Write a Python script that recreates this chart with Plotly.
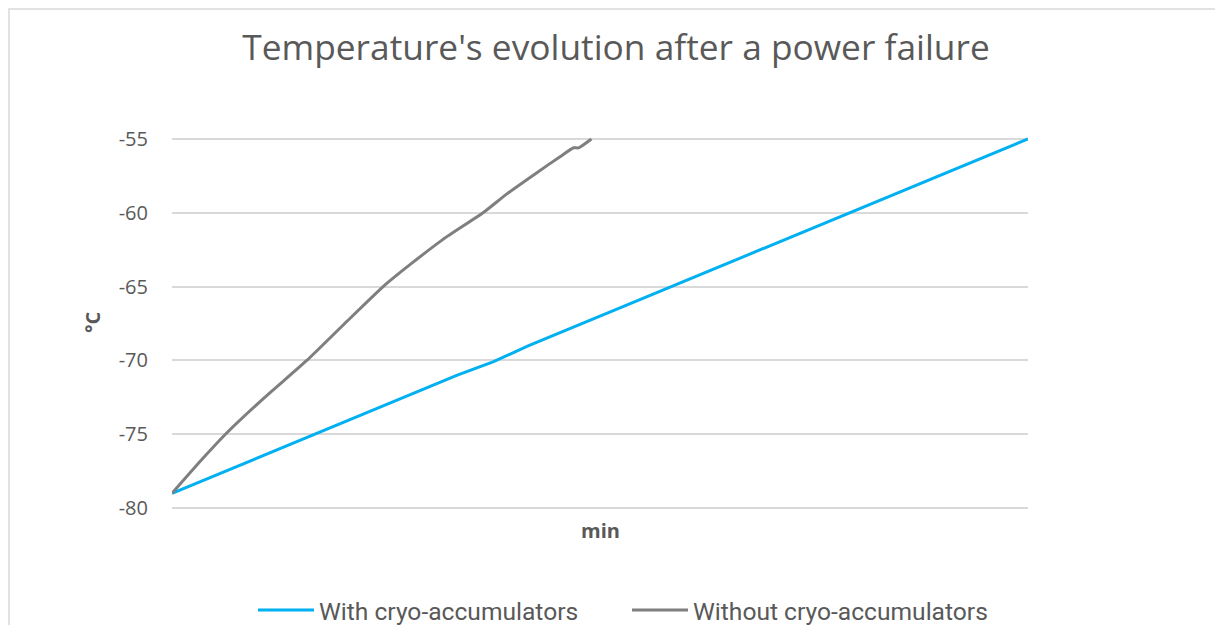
import plotly.graph_objects as go

# Data (minutes, °C)
with_min = [0, 10, 20, 30, 40, 45, 50, 60, 70, 80, 90, 100, 110, 120]
with_temp = [-79.0, -77.0, -75.0, -73.0, -71.0, -70.1, -69.0, -67.0, -65.0, -63.0, -61.0, -59.0, -57.0, -55.0]

without_min = [0, 4.4, 7.7, 13.0, 18.9, 24.0, 29.6, 33.4, 38.0, 43.6, 47.0, 51.1, 54.4, 56.3, 57.0, 58.8]
without_temp = [-79.0, -76.6, -74.9, -72.5, -70.0, -67.6, -65.0, -63.5, -61.8, -60.0, -58.7, -57.3, -56.2, -55.6, -55.6, -55.0]

y_ticks = [-80, -75, -70, -65, -60, -55]
y_tick_labels = ["-80", "-75", "-70", "-65", "-60", "-55"]

# page has an 8px body margin; work in page pixels and convert
OFF = 8
W, H = 1223 - 2 * OFF, 633 - 2 * OFF
L, R, T, B = 172 - OFF, 1028 - OFF, 139 - OFF, 508 - OFF
PAD = 0.2                      # small range padding so the edge gridlines show
UNIT = (B - T) / 25.0
Tp, Bp = T - PAD * UNIT, B + PAD * UNIT
pw, ph = R - L, Bp - Tp

def px(xpage):
    return (xpage - OFF - L) / pw

def py(ypage):
    return (Bp - (ypage - OFF)) / ph

fig = go.Figure()
fig.add_trace(go.Scatter(x=with_min, y=with_temp, mode="lines",
                         name="With cryo-accumulators", legend="legend",
                         line=dict(color="#00b0f0", width=3)))
fig.add_trace(go.Scatter(x=without_min, y=without_temp, mode="lines",
                         name="Without cryo-accumulators", legend="legend2",
                         line=dict(color="#7f7f7f", width=3, shape="spline", smoothing=0.5)))

leg_font = dict(family="Roboto", size=24.6, color="#595959")

fig.update_layout(
    width=W, height=H,
    margin=dict(l=L, r=W - R, t=Tp, b=H - Bp, pad=0, autoexpand=False),
    paper_bgcolor="white", plot_bgcolor="white",
    font=dict(family="Open Sans", color="#595959"),
    title=dict(text="Temperature's evolution after a power failure",
               x=(616 - OFF) / W, xanchor="center",
               y=1 - (48 - OFF) / H, yanchor="middle",
               font=dict(family="Open Sans", size=35.3, color="#595959")),
    showlegend=True,
    legend=dict(x=px(253), xanchor="left", y=py(610), yanchor="middle",
                font=leg_font, itemwidth=56, bgcolor="rgba(0,0,0,0)"),
    legend2=dict(x=px(627), xanchor="left", y=py(610), yanchor="middle",
                 font=leg_font, itemwidth=56, bgcolor="rgba(0,0,0,0)"),
    xaxis=dict(range=[0, 120], showticklabels=False, showgrid=False,
               zeroline=False, showline=False, ticks=""),
    yaxis=dict(range=[-80 - PAD, -55 + PAD], tickvals=y_ticks, ticktext=y_tick_labels,
               showgrid=True, gridcolor="#d9d9d9", gridwidth=1.5, zeroline=False,
               showline=False, ticks="", ticklabelstandoff=23,
               tickfont=dict(family="Open Sans", size=20, color="#595959")),
    annotations=[
        dict(text="<b>°C</b>", xref="paper", yref="paper", x=px(93), y=py(322),
             xanchor="center", yanchor="middle",
             showarrow=False, textangle=-90,
             font=dict(family="Open Sans", size=20, color="#595959")),
        dict(text="<b>min</b>", xref="paper", yref="paper", x=px(600), y=py(530),
             xanchor="center", yanchor="middle",
             showarrow=False,
             font=dict(family="Open Sans", size=20, color="#595959")),
    ],
    shapes=[
        dict(type="rect", xref="paper", yref="paper",
             x0=px(9), x1=px(1260), y0=py(700), y1=py(9),
             line=dict(color="#d9d9d9", width=1.5), fillcolor="rgba(0,0,0,0)",
             layer="below"),
    ],
)

fig.write_html("out.html")
